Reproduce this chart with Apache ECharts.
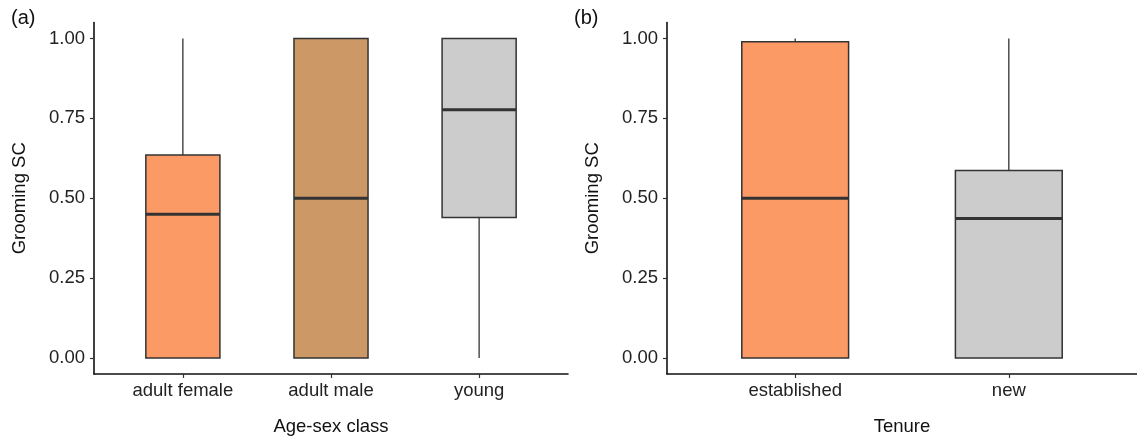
<!DOCTYPE html>
<html>
<head>
<meta charset="utf-8">
<script src="https://cdn.jsdelivr.net/npm/echarts@6/dist/echarts.min.js"></script>
<style>
  html, body { margin: 0; padding: 0; background: #fff; }
  #chart { width: 1137px; height: 441px; }
</style>
</head>
<body>
<div id="chart"></div>
<script>
// panel (a): age-sex class
const ageClasses = ["adult female", "adult male", "young"];
const ageMin = [0, 0, 0];
const ageQ1 = [0, 0, 0.44];
const ageMedian = [0.45, 0.5, 0.777];
const ageQ3 = [0.635, 1.0, 1.0];
const ageMax = [1, 1, 1];
const ageColors = ["#FC9A66", "#CB9866", "#CCCCCC"];

// panel (b): tenure
const tenureClasses = ["established", "new"];
const tenureMin = [0, 0];
const tenureQ1 = [0, 0];
const tenureMedian = [0.5, 0.437];
const tenureQ3 = [0.99, 0.587];
const tenureMax = [1, 1];
const tenureColors = ["#FC9A66", "#CCCCCC"];

const yTicks = [0, 0.25, 0.5, 0.75, 1];

const FONT = "Liberation Sans, Arial, sans-serif";
const INK = "#333333";
const TEXT = "#222222";

const chart = echarts.init(document.getElementById("chart"), null, { renderer: "canvas" });

const rows = (mins, q1s, meds, q3s, maxs) =>
  mins.map((m, i) => [i, m, q1s[i], meds[i], q3s[i], maxs[i]]);

// ggplot-style box: whiskers without caps, thick median
const renderBox = (colors) => (params, api) => {
  const i = api.value(0);
  const top = api.coord([i, api.value(5)]);
  const q3 = api.coord([i, api.value(4)]);
  const med = api.coord([i, api.value(3)]);
  const q1 = api.coord([i, api.value(2)]);
  const bot = api.coord([i, api.value(1)]);
  const half = api.size([0.5, 0])[0] / 2;
  const line = { stroke: INK, lineWidth: 1.3 };
  return {
    type: "group",
    children: [
      { type: "line", shape: { x1: top[0], y1: top[1], x2: q3[0], y2: q3[1] }, style: line },
      { type: "line", shape: { x1: q1[0], y1: q1[1], x2: bot[0], y2: bot[1] }, style: line },
      {
        type: "rect",
        shape: { x: q3[0] - half, y: q3[1], width: half * 2, height: q1[1] - q3[1] },
        style: { fill: colors[i], stroke: INK, lineWidth: 1.5 },
      },
      {
        type: "line",
        shape: { x1: med[0] - half, y1: med[1], x2: med[0] + half, y2: med[1] },
        style: { stroke: INK, lineWidth: 3 },
      },
    ],
  };
};

const xAxisFor = (gridIndex, cats, name) => ({
  type: "value",
  gridIndex,
  min: -0.6,
  max: cats.length - 0.4,
  name,
  nameLocation: "middle",
  nameGap: 43,
  nameTextStyle: { fontFamily: FONT, fontSize: 18.5, color: "#111" },
  axisLine: { show: true, onZero: false, lineStyle: { color: "#111", width: 1.6 } },
  axisTick: { show: true, length: 4, customValues: cats.map((c, i) => i), lineStyle: { color: INK, width: 1.2 } },
  axisLabel: {
    customValues: cats.map((c, i) => i),
    formatter: (v) => cats[Math.round(v)],
    margin: 7,
    fontFamily: FONT,
    fontSize: 18.5,
    color: TEXT,
  },
  splitLine: { show: false },
});

const yAxisFor = (gridIndex) => ({
  type: "value",
  gridIndex,
  min: -0.05,
  max: 1.05,
  name: "Grooming SC",
  nameLocation: "middle",
  nameRotate: 90,
  nameGap: 65,
  nameTextStyle: { fontFamily: FONT, fontSize: 18.5, color: "#111" },
  axisLine: { show: true, onZero: false, lineStyle: { color: "#111", width: 1.6 } },
  axisTick: { show: true, length: 4, customValues: yTicks, lineStyle: { color: INK, width: 1.2 } },
  axisLabel: {
    customValues: yTicks,
    formatter: (v) => v.toFixed(2),
    margin: 9,
    fontFamily: FONT,
    fontSize: 18.5,
    color: TEXT,
  },
  splitLine: { show: false },
});

chart.setOption({
  animation: false,
  backgroundColor: "#fff",
  grid: [
    { left: 94, top: 22.5, width: 474, height: 352 },
    { left: 667, top: 22.5, width: 474, height: 352 },
  ],
  xAxis: [xAxisFor(0, ageClasses, "Age-sex class"), xAxisFor(1, tenureClasses, "Tenure")],
  yAxis: [yAxisFor(0), yAxisFor(1)],
  graphic: [
    { type: "text", left: 11, top: 8, style: { text: "(a)", font: "20px " + FONT, fill: "#111" } },
    { type: "text", left: 574, top: 8, style: { text: "(b)", font: "20px " + FONT, fill: "#111" } },
  ],
  series: [
    {
      type: "custom",
      xAxisIndex: 0,
      yAxisIndex: 0,
      renderItem: renderBox(ageColors),
      encode: { x: 0, y: [1, 2, 3, 4, 5] },
      data: rows(ageMin, ageQ1, ageMedian, ageQ3, ageMax),
    },
    {
      type: "custom",
      xAxisIndex: 1,
      yAxisIndex: 1,
      renderItem: renderBox(tenureColors),
      encode: { x: 0, y: [1, 2, 3, 4, 5] },
      data: rows(tenureMin, tenureQ1, tenureMedian, tenureQ3, tenureMax),
    },
  ],
});
</script>
</body>
</html>
